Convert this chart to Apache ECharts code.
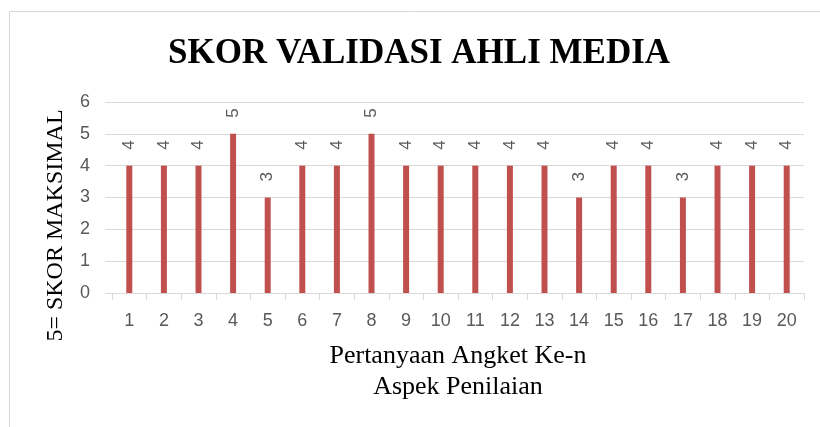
<!DOCTYPE html>
<html>
<head>
<meta charset="utf-8">
<script src="https://cdn.jsdelivr.net/npm/echarts@6/dist/echarts.min.js"></script>
<style>
html,body{margin:0;padding:0;background:#fff;}
#chart{width:820px;height:427px;}
</style>
</head>
<body>
<div id="chart"></div>
<script>
var categories = ['1','2','3','4','5','6','7','8','9','10','11','12','13','14','15','16','17','18','19','20'];
var scores = [4,4,4,5,3,4,4,5,4,4,4,4,4,3,4,4,3,4,4,4];
var yTicks = [0,1,2,3,4,5,6];

var chart = echarts.init(document.getElementById('chart'));
chart.setOption({
  animation: false,
  backgroundColor: '#ffffff',
  title: {
    text: 'SKOR VALIDASI AHLI MEDIA',
    left: 414,
    top: 31,
    textAlign: 'center',
    textStyle: {
      fontFamily: 'Liberation Serif',
      fontWeight: 'bold',
      fontSize: 35,
      color: '#000000'
    }
  },
  graphic: [{
    type: 'rect',
    silent: true,
    shape: {x: 9.5, y: 11.5, width: 900, height: 600},
    style: {fill: 'none', stroke: '#d9d9d9', lineWidth: 1}
  }],
  grid: {left: 112, right: 16, top: 102, bottom: 134, containLabel: false},
  xAxis: {
    type: 'category',
    data: categories,
    name: 'Pertanyaan Angket Ke-n\nAspek Penilaian',
    nameLocation: 'middle',
    nameGap: 48,
    nameTextStyle: {
      fontFamily: 'Liberation Serif',
      fontSize: 26,
      lineHeight: 31,
      color: '#000000'
    },
    axisLine: {show: true, lineStyle: {color: '#d9d9d9', width: 1}},
    axisTick: {show: true, alignWithLabel: false, length: 7, lineStyle: {color: '#d9d9d9'}},
    axisLabel: {
      margin: 19,
      fontFamily: 'Liberation Sans',
      fontSize: 18,
      color: '#595959'
    }
  },
  yAxis: {
    type: 'value',
    min: yTicks[0],
    max: yTicks[yTicks.length - 1],
    interval: 1,
    name: '5= SKOR MAKSIMAL',
    nameLocation: 'middle',
    nameRotate: 90,
    nameGap: 44,
    nameTextStyle: {
      fontFamily: 'Liberation Serif',
      fontSize: 24,
      color: '#000000',
      padding: [0, 56, 0, 0]
    },
    axisLine: {show: false},
    axisTick: {show: true, length: 7, lineStyle: {color: '#d9d9d9'}},
    splitLine: {show: true, lineStyle: {color: '#d9d9d9', width: 1}},
    axisLabel: {
      margin: 22,
      fontFamily: 'Liberation Sans',
      fontSize: 18,
      color: '#595959'
    }
  },
  series: [{
    type: 'bar',
    data: scores,
    barWidth: 6,
    itemStyle: {color: '#c0504d'},
    label: {
      show: true,
      position: 'top',
      distance: 16,
      rotate: 90,
      align: 'left',
      verticalAlign: 'middle',
      fontFamily: 'Liberation Sans',
      fontSize: 17,
      color: '#595959'
    }
  }]
});
</script>
</body>
</html>
